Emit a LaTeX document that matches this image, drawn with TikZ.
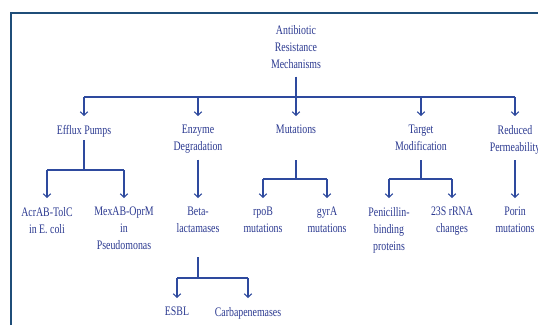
\documentclass[tikz,border=0pt]{standalone}
\usepackage{fontspec}
\setmainfont[FakeStretch=0.76]{Liberation Serif}
\usetikzlibrary{arrows.meta}
\definecolor{framec}{HTML}{1F4E79}
\definecolor{linec}{HTML}{2E4A9E}
\definecolor{txtc}{HTML}{2B3990}
\tikzset{
  lbl/.style={inner sep=0pt, anchor=north, align=center, text=txtc, font={\fontsize{13}{17}\selectfont}},
  ln/.style={draw=linec, line width=1.3pt},
  arr/.style={ln, -{Straight Barb[length=3.5pt,width=7.5pt,line width=1.1pt]}, shorten >=9pt},
  frame/.style={draw=framec, line width=2pt}
}
\begin{document}
\begin{tikzpicture}[x=1pt,y=-1pt]
\useasboundingbox (0,0) rectangle (538,325);
\draw[frame] (11,325) -- (11,13) -- (540,13);

% nodes
\node[lbl] (root) at (296,25) {Antibiotic\\Resistance\\Mechanisms};
\node[lbl] (efflux) at (84,125) {Efflux Pumps};
\node[lbl] (enzyme) at (198,125) {Enzyme\\Degradation};
\node[lbl] (mut) at (296,125) {Mutations};
\node[lbl] (target) at (421,125) {Target\\Modification};
\node[lbl] (reduced) at (515,125) {Reduced\\Permeability};
\node[lbl] (acr) at (47,207) {AcrAB-TolC\\in E. coli};
\node[lbl] (mex) at (124,207) {MexAB-OprM\\in\\Pseudomonas};
\node[lbl] (beta) at (198,207) {Beta-\\lactamases};
\node[lbl] (rpob) at (263,207) {rpoB\\mutations};
\node[lbl] (gyra) at (327,207) {gyrA\\mutations};
\node[lbl] (pen) at (389,207) {Penicillin-\\binding\\proteins};
\node[lbl] (rrna) at (452,207) {23S rRNA\\changes};
\node[lbl] (porin) at (515,207) {Porin\\mutations};
\node[lbl] (esbl) at (177,307) {ESBL};
\node[lbl] (carba) at (248,307) {Carbapenemases};

% root to bus
\coordinate (rb) at (296,97);
\draw[ln, shorten <=8pt] (root.south) -- (rb);
\draw[ln] (efflux.north |- rb) -- (reduced.north |- rb);
\foreach \n in {efflux,enzyme,mut,target,reduced}
  \draw[arr] (\n.north |- rb) -- (\n.north);

% efflux
\draw[ln, shorten <=3pt] (efflux.south) -- (efflux.south |- 0,170);
\draw[ln] (acr.north |- 0,170) -- (mex.north |- 0,170);
\draw[arr] (acr.north |- 0,170) -- (acr.north);
\draw[arr] (mex.north |- 0,170) -- (mex.north);

% enzyme
\draw[arr, shorten <=6pt] (enzyme.south) -- (beta.north);

% mutations
\draw[ln, shorten <=26pt] (mut.south) -- (mut.south |- 0,179);
\draw[ln] (rpob.north |- 0,179) -- (gyra.north |- 0,179);
\draw[arr] (rpob.north |- 0,179) -- (rpob.north);
\draw[arr] (gyra.north |- 0,179) -- (gyra.north);

% target
\draw[ln, shorten <=9pt] (target.south) -- (target.south |- 0,179);
\draw[ln] (pen.north |- 0,179) -- (rrna.north |- 0,179);
\draw[arr] (pen.north |- 0,179) -- (pen.north);
\draw[arr] (rrna.north |- 0,179) -- (rrna.north);

% reduced
\draw[arr, shorten <=6pt] (reduced.south) -- (porin.north);

% beta
\draw[ln, shorten <=24pt] (beta.south) -- (beta.south |- 0,278);
\draw[ln] (esbl.north |- 0,278) -- (carba.north |- 0,278);
\draw[arr] (esbl.north |- 0,278) -- (esbl.north);
\draw[arr] (carba.north |- 0,278) -- (carba.north);
\end{tikzpicture}
\end{document}
